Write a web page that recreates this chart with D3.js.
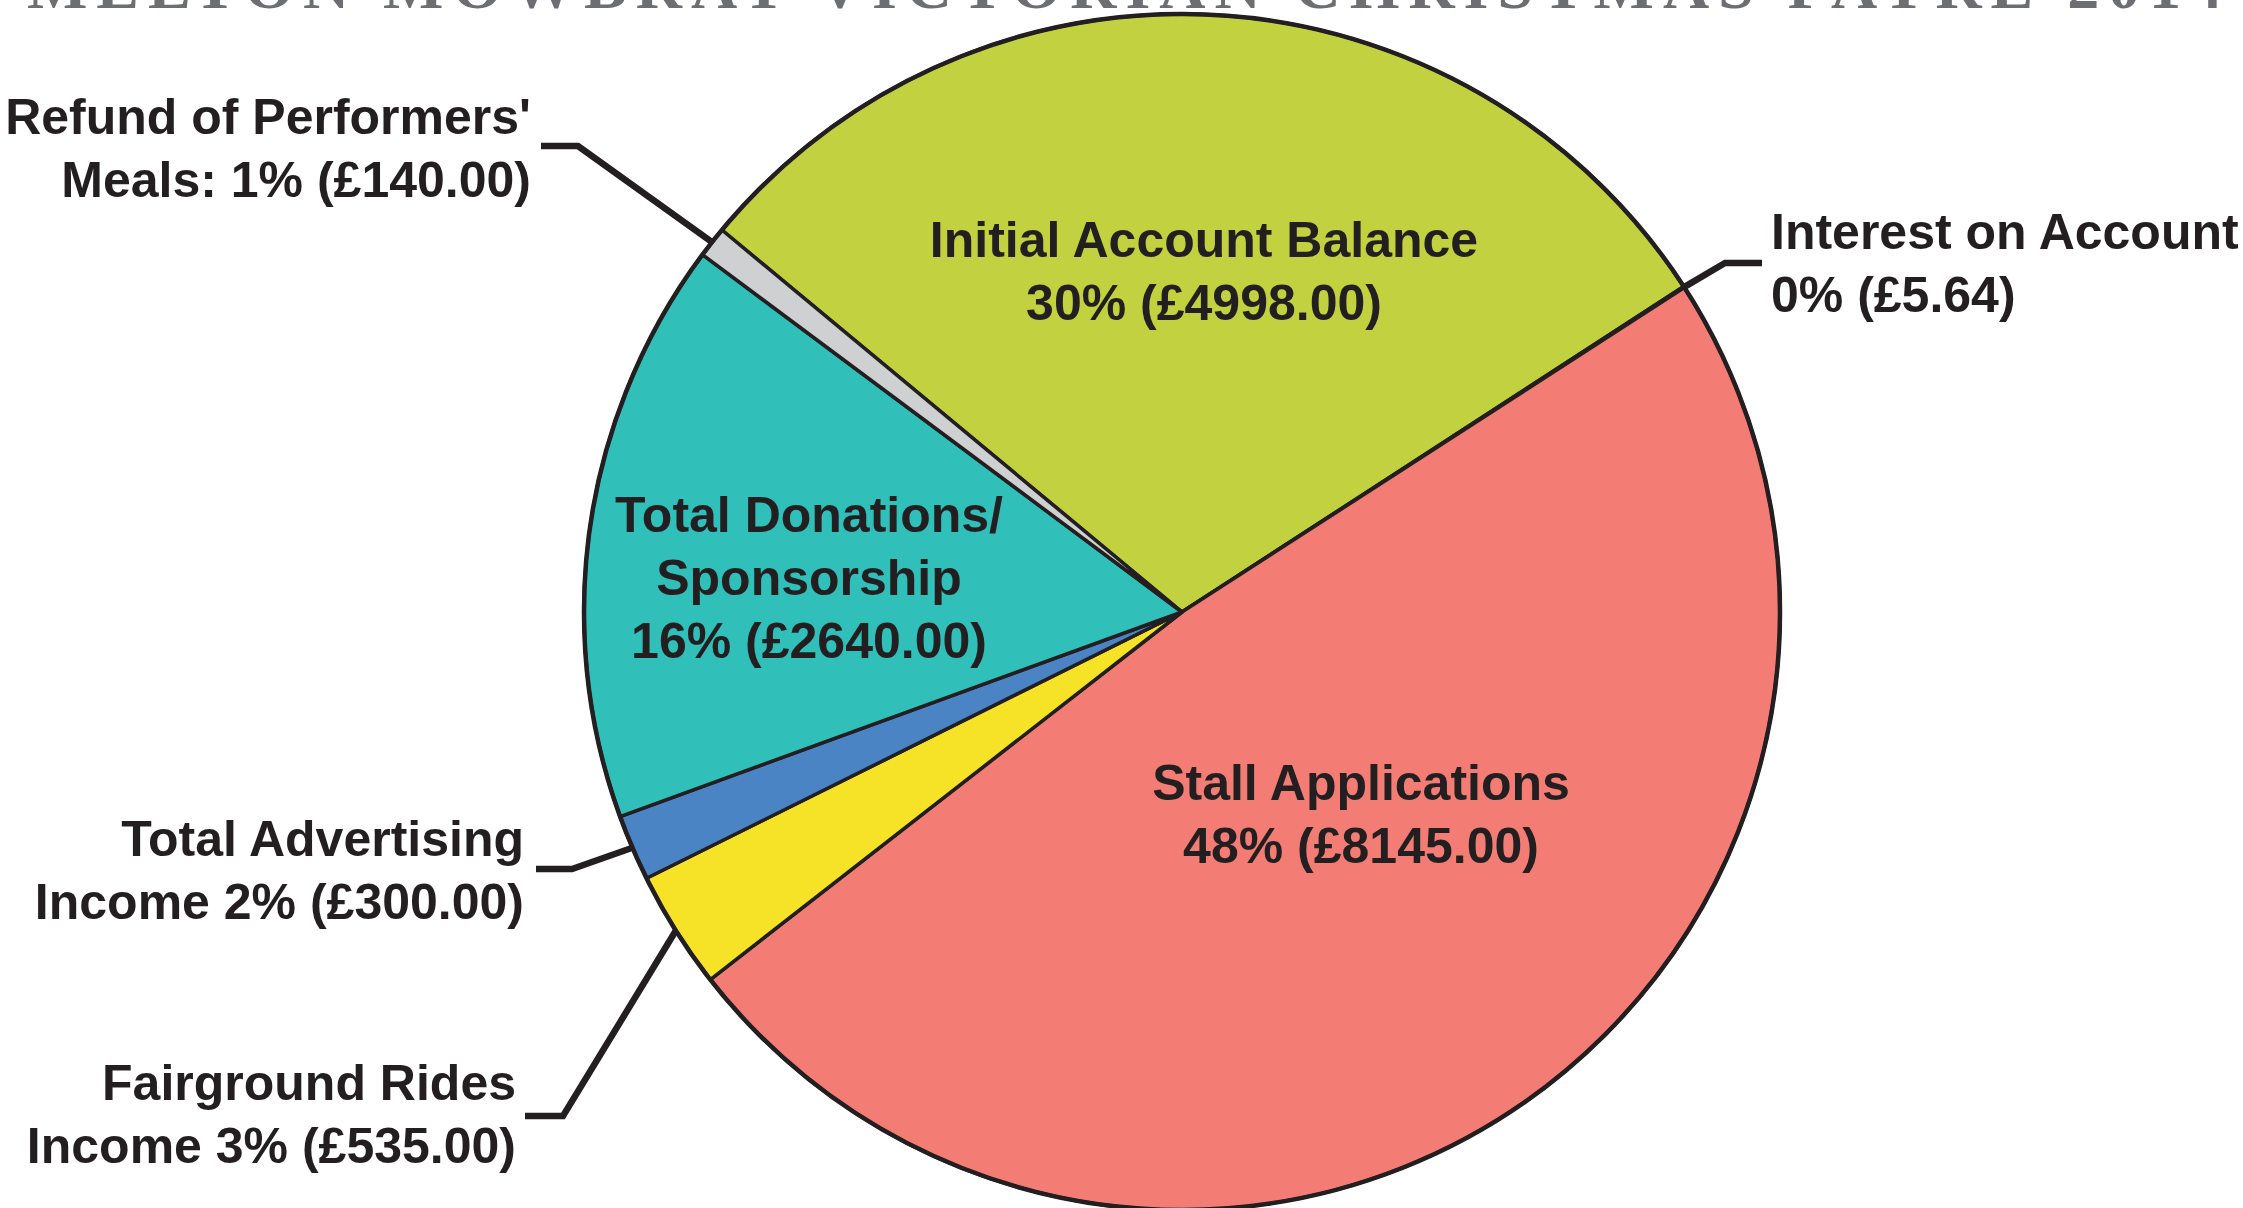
<!DOCTYPE html>
<html>
<head>
<meta charset="utf-8">
<title>Income breakdown</title>
<script src="https://cdn.jsdelivr.net/npm/d3@7"></script>
<style>
  body { margin: 0; background: #fff; overflow: hidden; }
  svg { display: block; }
  .lbl {
    font-family: "Liberation Sans", Arial, Helvetica, sans-serif;
    font-weight: bold;
    font-size: 50px;
    fill: #231f20;
  }
  .title {
    font-family: "Liberation Serif", "DejaVu Serif", serif;
    font-weight: bold;
    font-size: 64px;
    fill: #6d6e71;
  }
</style>
</head>
<body>
<script>
// Data
const titleText = "MELTON MOWBRAY VICTORIAN CHRISTMAS FAYRE 2014";

const categories = [
  "Initial Account Balance",
  "Interest on Account",
  "Stall Applications",
  "Fairground Rides Income",
  "Total Advertising Income",
  "Total Donations/Sponsorship",
  "Refund of Performers' Meals"
];
const amounts = [4998.00, 5.64, 8145.00, 535.00, 300.00, 2640.00, 140.00];
const percentText = ["30%", "0%", "48%", "3%", "2%", "16%", "1%"];
const sliceColors = ["#c1d13f", "#8e5ea2", "#f37d75", "#f6e226", "#4a84c5", "#30bfb9", "#cfd0d2"];

// label text, line by line
const labelLines = [
  ["Initial Account Balance", "30% (£4998.00)"],
  ["Interest on Account", "0% (£5.64)"],
  ["Stall Applications", "48% (£8145.00)"],
  ["Fairground Rides", "Income 3% (£535.00)"],
  ["Total Advertising", "Income 2% (£300.00)"],
  ["Total Donations/", "Sponsorship", "16% (£2640.00)"],
  ["Refund of Performers'", "Meals: 1% (£140.00)"]
];

// Layout (page pixels)
const W = 2243, H = 1208;
const cx = 1182, cy = 612, R = 598;
const startDeg = -50.3;
const lineGap = 63;

const labelLayout = {
  "Initial Account Balance":     { mode: "inside", x: 1204, y: 257 },
  "Stall Applications":          { mode: "inside", x: 1361, y: 800 },
  "Total Donations/Sponsorship": { mode: "inside", x: 809,  y: 532 },
  "Interest on Account":         { mode: "right", x: 1771, y: 249, elbow: [1725, 263], end: [1762, 263] },
  "Refund of Performers' Meals": { mode: "left",  x: 531,  y: 134, elbow: [578, 146],  end: [541, 146] },
  "Total Advertising Income":    { mode: "left",  x: 524,  y: 856, elbow: [572, 869],  end: [536, 869] },
  "Fairground Rides Income":     { mode: "left",  x: 516,  y: 1100, elbow: [563, 1116], end: [525, 1116] }
};

const svg = d3.select("body").append("svg")
  .attr("width", W)
  .attr("height", H);

// Title, mostly cut off at the top edge
svg.append("text")
  .attr("class", "title")
  .attr("x", 27)
  .attr("y", 8)
  .attr("textLength", 2195)
  .attr("lengthAdjust", "spacing")
  .text(titleText);

const color = d3.scaleOrdinal().domain(categories).range(sliceColors);

const start = startDeg * Math.PI / 180;
const pie = d3.pie()
  .sort(null)
  .value(d => d)
  .startAngle(start)
  .endAngle(start + 2 * Math.PI);

const arcs = pie(amounts);
const arc = d3.arc().innerRadius(0).outerRadius(R);
const edge = d3.arc().innerRadius(R).outerRadius(R);

const g = svg.append("g").attr("transform", `translate(${cx},${cy})`);

g.selectAll("path.slice")
  .data(arcs)
  .join("path")
  .attr("class", "slice")
  .attr("d", arc)
  .attr("fill", (d, i) => color(categories[i]))
  .attr("stroke", "#231f20")
  .attr("stroke-width", 3.5)
  .attr("stroke-linejoin", "round");

// thicker outer rim
g.append("circle")
  .attr("r", R)
  .attr("fill", "none")
  .attr("stroke", "#231f20")
  .attr("stroke-width", 4.5);

// Leader lines for outside labels
arcs.forEach((d, i) => {
  const lay = labelLayout[categories[i]];
  if (lay.mode === "inside") return;
  const p = edge.centroid(d);
  const pts = [[p[0] + cx, p[1] + cy], lay.elbow, lay.end];
  svg.append("path")
    .attr("d", d3.line()(pts))
    .attr("fill", "none")
    .attr("stroke", "#231f20")
    .attr("stroke-width", 6.5)
    .attr("stroke-linejoin", "miter");
});

// Labels
categories.forEach((name, i) => {
  const lay = labelLayout[name];
  const anchor = lay.mode === "inside" ? "middle" : (lay.mode === "left" ? "end" : "start");
  const t = svg.append("text")
    .attr("class", "lbl")
    .attr("text-anchor", anchor);
  labelLines[i].forEach((line, j) => {
    t.append("tspan")
      .attr("x", lay.x)
      .attr("y", lay.y + j * lineGap)
      .text(line);
  });
});
</script>
</body>
</html>
